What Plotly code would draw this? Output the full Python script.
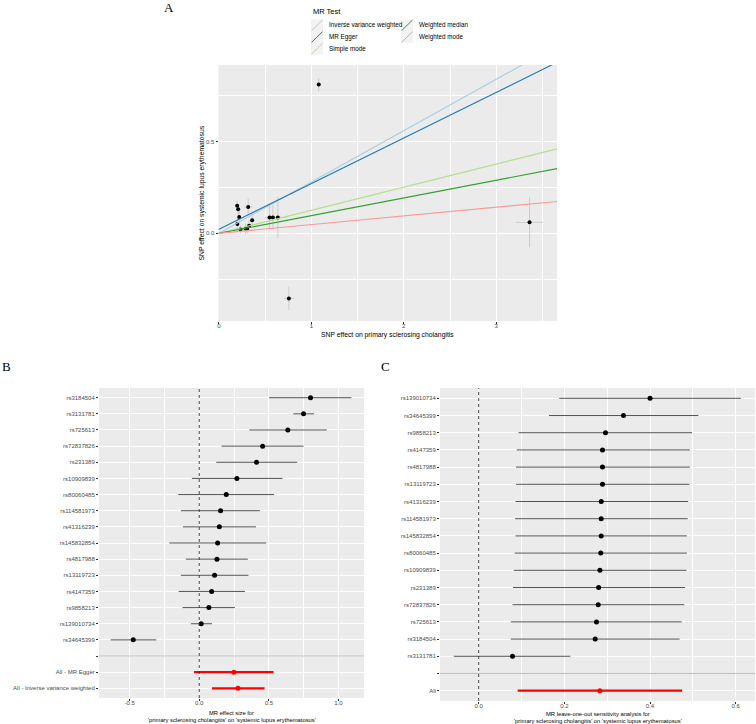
import plotly.graph_objects as go

W, H = 756, 724

# ---------------- Panel A: scatter ----------------
methods = ["Inverse variance weighted", "MR Egger", "Simple mode", "Weighted median", "Weighted mode"]
method_colors = ["#a6cee3", "#1f78b4", "#b2df8a", "#33a02c", "#fb9a99"]
method_slopes = [0.280, 0.249, 0.126, 0.0965, 0.0475]
method_intercepts = [0.0, 0.022, 0.0, 0.0, 0.0]

a_bx = [1.080, 0.198, 0.209, 0.220, 0.200, 0.317, 0.234, 0.288, 0.306, 0.328, 0.360, 0.548, 0.584, 0.638, 0.757, 3.360]
a_by = [0.811, 0.151, 0.131, 0.089, 0.051, 0.144, 0.022, 0.025, 0.024, 0.042, 0.071, 0.087, 0.087, 0.087, -0.355, 0.060]
a_bx_se = [0.025, 0.012, 0.012, 0.014, 0.012, 0.045, 0.015, 0.018, 0.020, 0.020, 0.025, 0.050, 0.050, 0.100, 0.055, 0.145]
a_by_se = [0.036, 0.028, 0.030, 0.032, 0.030, 0.046, 0.022, 0.030, 0.026, 0.028, 0.040, 0.065, 0.070, 0.113, 0.064, 0.136]
a_xticks = [0, 1, 2, 3]
a_xticktext = ["0", "1", "2", "3"]
a_yticks = [0.0, 0.5]
a_yticktext = ["0.0", "0.5"]

# ---------------- Panel B: forest ----------------
b_snps = ["rs3184504", "rs3131781", "rs725613", "rs72837826", "rs231389", "rs10909839", "rs80060485",
          "rs114581973", "rs41316239", "rs145832854", "rs4817988", "rs13119723", "rs4147359", "rs9858213",
          "rs139010734", "rs34645399"]
b_b = [0.799, 0.749, 0.636, 0.455, 0.411, 0.270, 0.194, 0.153, 0.144, 0.132, 0.127, 0.110, 0.089, 0.069, 0.014, -0.474]
b_lo = [0.502, 0.675, 0.359, 0.160, 0.122, -0.053, -0.151, -0.132, -0.117, -0.215, -0.096, -0.132, -0.148, -0.120, -0.060, -0.636]
b_hi = [1.093, 0.825, 0.916, 0.749, 0.703, 0.598, 0.538, 0.435, 0.407, 0.481, 0.349, 0.354, 0.328, 0.256, 0.091, -0.309]
b_sum_labels = ["All - MR Egger", "All - Inverse variance weighted"]
b_sum_b = [0.249, 0.278]
b_sum_lo = [-0.038, 0.091]
b_sum_hi = [0.533, 0.469]
b_xticks = [-0.5, 0.0, 0.5, 1.0]
b_xticktext = ["-0.5", "0.0", "0.5", "1.0"]

# ---------------- Panel C: leave-one-out ----------------
c_snps = ["rs139010734", "rs34645399", "rs9858213", "rs4147359", "rs4817988", "rs13119723", "rs41316239",
          "rs114581973", "rs145832854", "rs80060485", "rs10909839", "rs231389", "rs72837826", "rs725613",
          "rs3184504", "rs3131781"]
c_b = [0.400, 0.338, 0.296, 0.289, 0.289, 0.289, 0.286, 0.286, 0.286, 0.285, 0.283, 0.280, 0.279, 0.275, 0.272, 0.079]
c_lo = [0.188, 0.164, 0.093, 0.089, 0.087, 0.087, 0.086, 0.085, 0.086, 0.084, 0.082, 0.080, 0.079, 0.075, 0.075, -0.058]
c_hi = [0.612, 0.513, 0.498, 0.493, 0.493, 0.492, 0.489, 0.488, 0.486, 0.486, 0.485, 0.482, 0.480, 0.474, 0.469, 0.214]
c_sum_labels = ["All"]
c_sum_b = [0.283]
c_sum_lo = [0.091]
c_sum_hi = [0.475]
c_xticks = [0.0, 0.2, 0.4, 0.6]
c_xticktext = ["0.0", "0.2", "0.4", "0.6"]

exposure = "primary sclerosing cholangitis"
outcome = "systemic lupus erythematosus"

# ---------------- helpers ----------------
SANS = "Liberation Sans, Arial, sans-serif"
SERIF = "Liberation Serif, Times New Roman, serif"
BG = "#EBEBEB"
TICKC = "#4D4D4D"


def px(x):
    return x / W


def py(y):
    return 1 - y / H


A_X = [218.5, 557]
A_Y = [65, 321]
B_X = [99, 364]
B_Y = [388, 698]
C_X = [440, 755]
C_Y = [388, 701]

a_xrange = [-0.004, 3.657]
a_yrange = [-0.478, 0.918]

fig = go.Figure()

# Panel A points with error bars
fig.add_trace(go.Scatter(
    x=a_bx, y=a_by, mode="markers", xaxis="x", yaxis="y",
    marker=dict(color="black", size=4),
    error_x=dict(type="data", array=a_bx_se, color="#BEBEBE", thickness=0.7, width=0),
    error_y=dict(type="data", array=a_by_se, color="#BEBEBE", thickness=0.7, width=0),
    showlegend=False, hoverinfo="skip"))

# Panel A regression lines
for name, col, s, b0 in zip(methods, method_colors, method_slopes, method_intercepts):
    xs = [a_xrange[0], a_xrange[1]]
    fig.add_trace(go.Scatter(
        x=xs, y=[b0 + s * v for v in xs], mode="lines", xaxis="x", yaxis="y",
        line=dict(color=col, width=1.1), name=name, showlegend=False, hoverinfo="skip"))


def forest(snps, b, lo, hi, sum_labels, sum_b, sum_lo, sum_hi, xa, ya):
    n = len(snps)
    ys = list(range(n))
    fig.add_trace(go.Scatter(
        x=b, y=ys, mode="markers", xaxis=xa, yaxis=ya,
        marker=dict(color="black", size=5),
        error_x=dict(type="data", symmetric=False,
                     array=[h - v for h, v in zip(hi, b)],
                     arrayminus=[v - l for v, l in zip(b, lo)],
                     color="#555555", thickness=1.0, width=0),
        showlegend=False, hoverinfo="skip"))
    ys2 = [n + 1 + i for i in range(len(sum_labels))]
    fig.add_trace(go.Scatter(
        x=sum_b, y=ys2, mode="markers", xaxis=xa, yaxis=ya,
        marker=dict(color="red", size=5),
        error_x=dict(type="data", symmetric=False,
                     array=[h - v for h, v in zip(sum_hi, sum_b)],
                     arrayminus=[v - l for v, l in zip(sum_b, sum_lo)],
                     color="red", thickness=2.3, width=0),
        showlegend=False, hoverinfo="skip"))
    labels = list(snps) + [""] + list(sum_labels)
    return list(range(len(labels))), labels, n


b_tv, b_tt, b_n = forest(b_snps, b_b, b_lo, b_hi, b_sum_labels, b_sum_b, b_sum_lo, b_sum_hi, "x2", "y2")
c_tv, c_tt, c_n = forest(c_snps, c_b, c_lo, c_hi, c_sum_labels, c_sum_b, c_sum_lo, c_sum_hi, "x3", "y3")

common_ax = dict(showline=False, zeroline=False, showgrid=True, gridcolor="white", gridwidth=1.1,
                 ticks="outside", ticklen=2, tickwidth=0.8, tickcolor="#333333",
                 tickfont=dict(family=SANS, size=6, color=TICKC))
x_ax = dict(common_ax, ticklabelstandoff=-3)

shapes = []
# separators and zero lines for forest panels
for xa, ya, n in [("x2", "y2", b_n), ("x3", "y3", c_n)]:
    shapes.append(dict(type="line", xref=xa + " domain", yref=ya, x0=0, x1=1, y0=n, y1=n,
                       line=dict(color="#BEBEBE", width=1), layer="above"))
    shapes.append(dict(type="line", xref=xa, yref=ya + " domain", x0=0, x1=0, y0=0, y1=1,
                       line=dict(color="#333333", width=0.9, dash="dot"), layer="above"))

# manual legend for panel A
annotations = []
annotations.append(dict(text="MR Test", x=px(311), y=py(12), xref="paper", yref="paper",
                        xanchor="left", yanchor="middle", showarrow=False,
                        font=dict(family=SANS, size=7.5, color="black")))
key_w, key_h = 12, 11.7
col_x = [311, 401]
row_y0 = 19.5
for i, (name, col) in enumerate(zip(methods, method_colors)):
    c = 0 if i < 3 else 1
    r = i if i < 3 else i - 3
    x0 = col_x[c]
    y0 = row_y0 + r * key_h
    shapes.append(dict(type="rect", xref="paper", yref="paper",
                       x0=px(x0), x1=px(x0 + key_w), y0=py(y0), y1=py(y0 + key_h),
                       fillcolor="#F2F2F2", line=dict(width=0)))
    shapes.append(dict(type="line", xref="paper", yref="paper",
                       x0=px(x0 + 0.5), x1=px(x0 + key_w - 0.5), y0=py(y0 + key_h - 0.5), y1=py(y0 + 0.5),
                       line=dict(color=col, width=1)))
    annotations.append(dict(text=name, x=px(x0 + key_w + 4), y=py(y0 + key_h / 2), xref="paper", yref="paper",
                            xanchor="left", yanchor="middle", showarrow=False,
                            font=dict(family=SANS, size=6.3, color="black")))

# panel letters
for letter, lx, ly in [("A", 169, 8), ("B", 6, 367), ("C", 385, 367)]:
    annotations.append(dict(text=letter, x=px(lx), y=py(ly), xref="paper", yref="paper",
                            xanchor="center", yanchor="middle", showarrow=False,
                            font=dict(family=SERIF, size=13, color="black")))

# axis titles
annotations.append(dict(text="SNP effect on " + exposure, x=px((A_X[0] + A_X[1]) / 2), y=py(335),
                        xref="paper", yref="paper", xanchor="center", yanchor="middle", showarrow=False,
                        font=dict(family=SANS, size=6.8, color="black")))
annotations.append(dict(text="SNP effect on " + outcome, x=px(201.5), y=py((A_Y[0] + A_Y[1]) / 2),
                        xref="paper", yref="paper", xanchor="center", yanchor="middle", showarrow=False,
                        textangle=-90, font=dict(family=SANS, size=6.8, color="black")))
for lines, cx, ys in [(["MR effect size for", "'" + exposure + "' on '" + outcome + "'"], (B_X[0] + B_X[1]) / 2, [712.5, 719.5]),
                      (["MR leave-one-out sensitivity analysis for", "'" + exposure + "' on '" + outcome + "'"], (C_X[0] + C_X[1]) / 2, [714, 721])]:
    for t, yy in zip(lines, ys):
        annotations.append(dict(text=t, x=px(cx), y=py(yy), xref="paper", yref="paper",
                                xanchor="center", yanchor="middle", showarrow=False,
                                font=dict(family=SANS, size=5.8, color="black")))

fig.update_layout(
    width=W, height=H, margin=dict(l=0, r=0, t=0, b=0),
    paper_bgcolor="white", plot_bgcolor=BG, showlegend=False,
    xaxis=dict(domain=[px(A_X[0]), px(A_X[1])], range=a_xrange, anchor="y",
               tickvals=a_xticks, ticktext=a_xticktext,
               minor=dict(showgrid=True, gridcolor="white", gridwidth=0.5, dtick=0.5, tick0=0.5), **x_ax),
    yaxis=dict(domain=[py(A_Y[1]), py(A_Y[0])], range=a_yrange, anchor="x",
               tickvals=a_yticks, ticktext=a_yticktext,
               minor=dict(showgrid=True, gridcolor="white", gridwidth=0.5, dtick=0.5, tick0=0.25), **common_ax),
    xaxis2=dict(domain=[px(B_X[0]), px(B_X[1])], range=[-0.72, 1.183], anchor="y2",
                tickvals=b_xticks, ticktext=b_xticktext,
                minor=dict(showgrid=True, gridcolor="white", gridwidth=0.5, dtick=0.5, tick0=0.25), **x_ax),
    yaxis2=dict(domain=[py(B_Y[1]), py(B_Y[0])], range=[len(b_tt) - 0.4, -0.6], anchor="x2",
                tickvals=b_tv, ticktext=b_tt, **common_ax),
    xaxis3=dict(domain=[px(C_X[0]), px(C_X[1])], range=[-0.0903, 0.645], anchor="y3",
                tickvals=c_xticks, ticktext=c_xticktext,
                minor=dict(showgrid=True, gridcolor="white", gridwidth=0.5, dtick=0.2, tick0=0.1), **x_ax),
    yaxis3=dict(domain=[py(C_Y[1]), py(C_Y[0])], range=[len(c_tt) - 0.4, -0.6], anchor="x3",
                tickvals=c_tv, ticktext=c_tt, **common_ax),
    shapes=shapes, annotations=annotations,
)

fig.write_html("out.html")
